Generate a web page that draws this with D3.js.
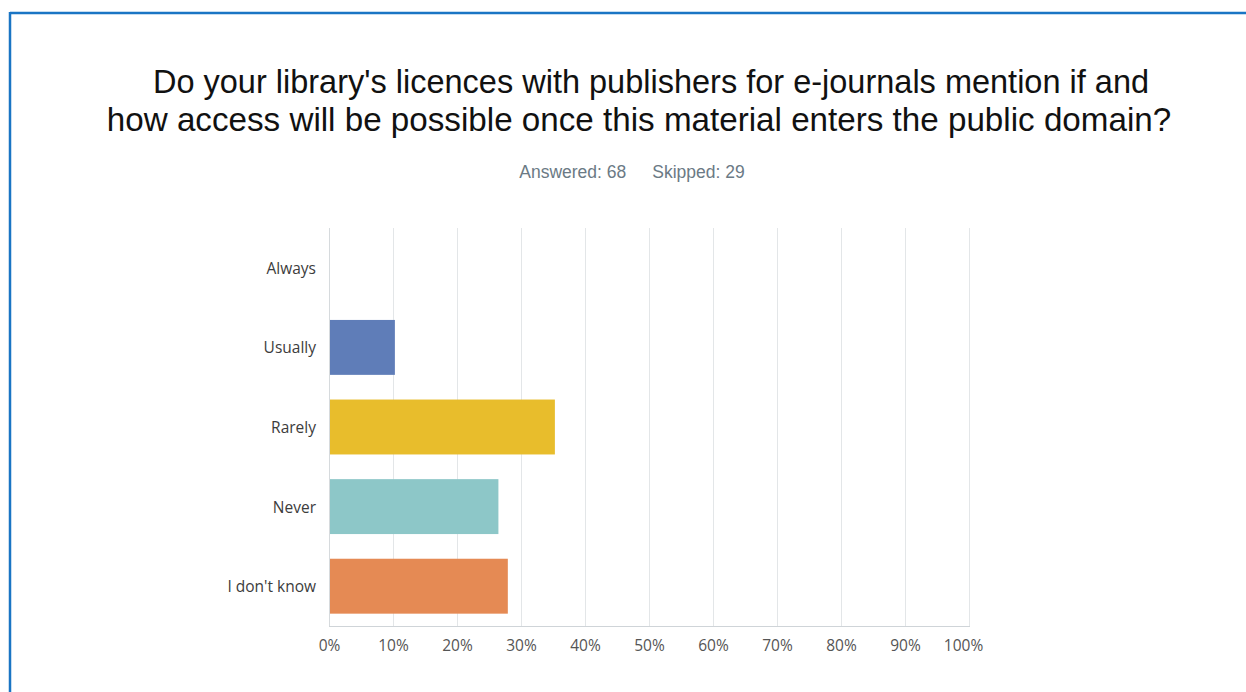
<!DOCTYPE html>
<html>
<head>
<meta charset="utf-8">
<script src="https://cdn.jsdelivr.net/npm/d3@7/dist/d3.min.js"></script>
<style>
  html, body { margin: 0; padding: 0; background: #fff; }
  svg { display: block; }
</style>
</head>
<body>
<script>
// Survey responses (n = 68)
const categories = ["Always", "Usually", "Rarely", "Never", "I don't know"];
const counts = [0, 7, 24, 18, 19];
const answered = 68;
const skipped = 29;
const percents = counts.map(c => c / answered * 100);
const barColors = ["#5f7db8", "#5f7db8", "#e8bd2c", "#8dc7c8", "#e58a54"];
const tickValues = [0, 10, 20, 30, 40, 50, 60, 70, 80, 90, 100];
const titleLines = [
  "Do your library's licences with publishers for e-journals mention if and",
  "how access will be possible once this material enters the public domain?"
];

const W = 1246, H = 692;
const svg = d3.select("body").append("svg").attr("width", W).attr("height", H);

// frame (top and left edges)
svg.append("line").attr("x1", 10).attr("x2", W).attr("y1", 13).attr("y2", 13)
  .attr("stroke", "#1a75c4").attr("stroke-width", 2.5);
svg.append("line").attr("x1", 10).attr("x2", 10).attr("y1", 12).attr("y2", H)
  .attr("stroke", "#1a75c4").attr("stroke-width", 2.5);

// title
svg.append("g").selectAll("text").data(titleLines).join("text")
  .attr("x", (d, i) => i === 0 ? 651 : 639)
  .attr("y", (d, i) => 93 + i * 38)
  .attr("text-anchor", "middle")
  .attr("font-family", "'Liberation Sans', Arial, sans-serif")
  .attr("font-size", (d, i) => i === 0 ? 32.5 : 33.2)
  .attr("fill", "#111")
  .text(d => d);

// response summary
const sub = svg.append("text").attr("x", 632).attr("y", 178)
  .attr("text-anchor", "middle")
  .attr("font-family", "'Liberation Sans', Arial, sans-serif")
  .attr("font-size", 17.5).attr("fill", "#6b7a85");
sub.append("tspan").text("Answered: " + answered);
sub.append("tspan").attr("dx", 26).text("Skipped: " + skipped);

const x = d3.scaleLinear().domain([0, 100]).range([329, 969]);
const y = d3.scaleBand().domain(categories).range([228, 626]).paddingInner(0.31).paddingOuter(0.155);

// vertical gridlines
svg.append("g").selectAll("line").data(tickValues).join("line")
  .attr("x1", d => x(d) + 0.5).attr("x2", d => x(d) + 0.5)
  .attr("y1", 228).attr("y2", 626)
  .attr("stroke", "#e3e6e8").attr("stroke-width", 1);

// bars
svg.append("g").selectAll("rect").data(categories).join("rect")
  .attr("x", x(0))
  .attr("y", d => y(d))
  .attr("width", (d, i) => x(percents[i]) - x(0))
  .attr("height", y.bandwidth())
  .attr("fill", (d, i) => barColors[i]);

// baseline and left axis line
svg.append("line").attr("x1", x(0)).attr("x2", x(100) + 1).attr("y1", 626.5).attr("y2", 626.5)
  .attr("stroke", "#cfd4d8");
svg.append("line").attr("x1", x(0) + 0.5).attr("x2", x(0) + 0.5).attr("y1", 228).attr("y2", 626)
  .attr("stroke", "#d6dadd");

// category axis
const yAxis = svg.append("g").attr("transform", "translate(316,1)")
  .call(d3.axisLeft(y).tickSize(0).tickPadding(0));
yAxis.select(".domain").remove();
yAxis.selectAll("text")
  .attr("font-family", "'Open Sans', 'DejaVu Sans', sans-serif")
  .attr("font-size", 15.5).attr("fill", "#3c3c3c");

// percentage axis; the last label is nudged inward to stay inside the plot
const xAxis = svg.append("g").attr("transform", "translate(0,640)")
  .call(d3.axisBottom(x).tickValues(tickValues).tickFormat(d => d + "%").tickSize(0).tickPadding(0));
xAxis.select(".domain").remove();
xAxis.selectAll("text")
  .attr("font-family", "'Open Sans', 'DejaVu Sans', sans-serif")
  .attr("font-size", 15.5).attr("fill", "#555")
  .attr("dx", d => d === 100 ? -6 : 0);
</script>
</body>
</html>
